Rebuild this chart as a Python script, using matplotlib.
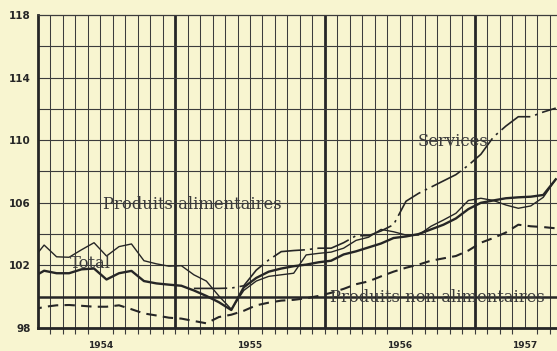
import matplotlib
matplotlib.use('Agg')
import matplotlib.pyplot as plt
import numpy as np

# monthly indices, Jan 1954 = 0 ; values are plotted at mid-month
alimentaires = [102.3, 103.3, 102.55, 102.52, 103.0, 103.45, 102.6, 103.2, 103.37, 102.3,
                102.1, 101.95, 101.98, 101.4, 101.0, 100.05, 99.2, 100.4, 101.0, 101.3,
                101.4, 101.5, 102.67, 102.77, 102.85, 103.1, 103.6, 103.8, 104.3, 104.15,
                103.94, 103.94, 104.5, 104.9, 105.33, 106.15, 106.29, 106.15, 105.86, 105.65,
                105.8, 106.35, 107.5]
total = [101.2, 101.66, 101.5, 101.5, 101.75, 101.8, 101.1, 101.5, 101.65, 101.0,
         100.85, 100.77, 100.7, 100.4, 100.05, 99.65, 99.15, 100.6, 101.2, 101.6,
         101.8, 101.95, 102.05, 102.2, 102.3, 102.7, 102.9, 103.15, 103.4, 103.75,
         103.85, 104.0, 104.3, 104.6, 105.0, 105.6, 106.0, 106.15, 106.29, 106.35,
         106.39, 106.5, 107.5]
non_alimentaires = [99.15, 99.35, 99.45, 99.47, 99.42, 99.36, 99.36, 99.45, 99.2, 98.93,
                    98.8, 98.66, 98.6, 98.45, 98.3, 98.7, 98.85, 99.1, 99.45, 99.62,
                    99.75, 99.8, 99.9, 100.05, 100.25, 100.5, 100.8, 100.98, 101.3, 101.6,
                    101.85, 102.05, 102.3, 102.45, 102.6, 102.95, 103.45, 103.75, 104.1, 104.6,
                    104.5, 104.45, 104.37]
services_start = 13  # Feb 1955
services = [100.53, 100.53, 100.53, 100.55, 100.7, 101.7, 102.35, 102.88, 102.95, 103.0,
            103.1, 103.1, 103.45, 103.9, 103.9, 104.2, 104.6, 106.1, 106.6, 107.0,
            107.4, 107.8, 108.4, 109.1, 110.2, 110.9, 111.5, 111.5, 111.8, 112.05]

years = ['1954', '1955', '1956', '1957']
year_label_pos = [6, 18, 30, 40]
y_ticks = [98, 102, 106, 110, 114, 118]

paper = '#f8f5d0'
ink = '#262626'
grid_ink = '#3c3c3c'

fig = plt.figure(figsize=(5.57, 3.51), dpi=100, facecolor=paper)
ax = fig.add_axes([0.068, 0.0655, 0.932, 0.8918], facecolor=paper)

x_main = np.arange(len(total)) + 0.5
x_serv = np.arange(services_start, services_start + len(services)) + 0.5

# grid: one column per month, one row per 2 points
for m in range(2, 43):
    if m % 12 == 0:
        ax.axvline(m, color=ink, lw=2.0, zorder=1)
    else:
        ax.axvline(m, color=grid_ink, lw=0.75, zorder=1)
for v in range(100, 118, 2):
    if v == 100:
        ax.axhline(v, color=ink, lw=1.8, zorder=1)
    else:
        ax.axhline(v, color=grid_ink, lw=0.8, zorder=1)

ax.plot(x_main, alimentaires, color=ink, lw=1.0, zorder=3)
ax.plot(x_main, total, color=ink, lw=1.7, zorder=3)
ax.plot(x_main, non_alimentaires, color=ink, lw=1.5, dashes=(5, 3), zorder=3)
ax.plot(x_serv, services, color=ink, lw=1.2, dashes=(20, 3, 1.5, 3), zorder=3)

serif = dict(family='DejaVu Serif', fontsize=11.8, color='#3a3a3a', va='center', ha='left', zorder=4)
ax.text(6.2, 105.86, 'Produits alimentaires', **serif)
ax.text(3.56, 102.15, 'Total', **serif)
ax.text(31.4, 109.9, 'Services', **serif)
ax.text(24.4, 99.98, 'Produits non alimentaires', **serif)

ax.set_xlim(1, 42.6)
ax.set_ylim(98, 118)

ax.set_yticks(y_ticks)
ax.set_yticklabels([str(t) for t in y_ticks], fontsize=7.5, weight='bold', color=ink)
ax.tick_params(axis='y', length=0, pad=5)

ax.set_xticks(year_label_pos)
ax.set_xticklabels(years, fontsize=6.5, weight='bold', color=ink)
ax.set_xticks(np.arange(2, 43), minor=True)
ax.tick_params(axis='x', which='major', length=0, pad=9)
ax.tick_params(axis='x', which='minor', length=4, width=0.8, color=grid_ink, direction='out')

for side in ['left', 'bottom']:
    ax.spines[side].set_linewidth(2.0)
    ax.spines[side].set_color(ink)
ax.spines['top'].set_linewidth(0.9)
ax.spines['top'].set_color(grid_ink)
ax.spines['right'].set_visible(False)

fig.savefig('out.png', dpi=100, facecolor=paper)
